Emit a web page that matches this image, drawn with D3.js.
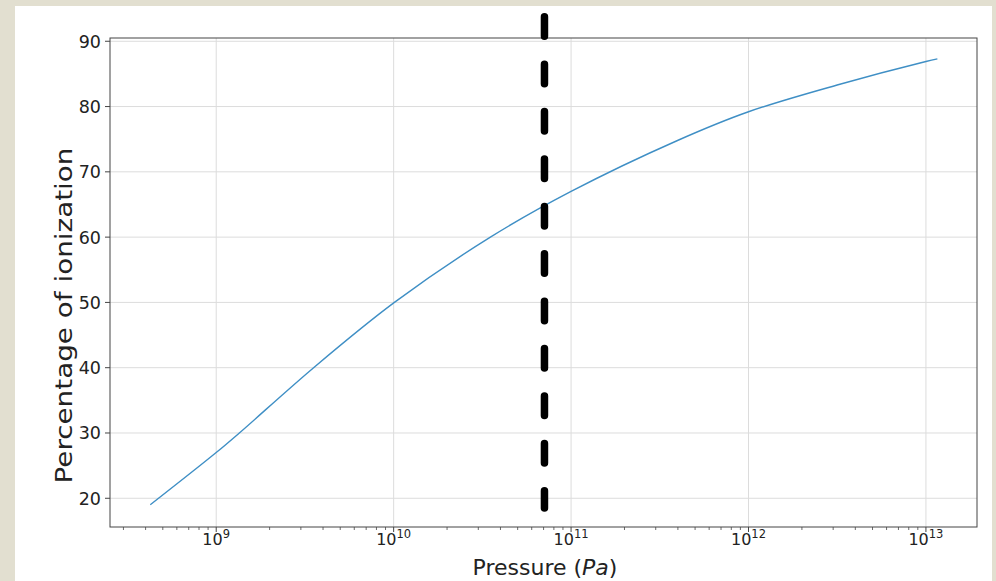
<!DOCTYPE html>
<html>
<head>
<meta charset="utf-8">
<script src="https://cdn.jsdelivr.net/npm/d3@7/dist/d3.min.js"></script>
<style>
  html, body { margin: 0; padding: 0; background: #e2dfd0; }
  svg { display: block; }
</style>
</head>
<body>
<svg id="chart" width="996" height="581"></svg>
<script>
// ---- data ----
const pressure   = [4.25e8, 1e9,  1.35e9, 3.54e9, 1.01e10, 3.51e10, 1e11, 3.98e11, 1e12, 3.16e12, 1e13, 1.16e13];
const ionization = [19.0,   27.0, 30.0,   40.0,   50.0,    60.0,    67.0, 74.8,    79.2, 83.3,    86.9, 87.3];
const xTickValues = [1e9, 1e10, 1e11, 1e12, 1e13];
const xTickExponents = ["9", "10", "11", "12", "13"];
const yTickValues = [20, 30, 40, 50, 60, 70, 80, 90];
const markerPressure = [7.08e10];
const markerRange = [93.75, 18.5];
const xLabelMain = "Pressure (";
const xLabelItalic = "Pa";
const yLabel = "Percentage of ionization";

// ---- layout ----
const svg = d3.select("#chart");
const W = 996, H = 581;
const plot = { left: 110, right: 977, top: 38, bottom: 527 };

svg.append("rect").attr("x", 0).attr("y", 0).attr("width", W).attr("height", H).attr("fill", "#e2dfd0");
svg.append("rect").attr("x", 15).attr("y", 6).attr("width", 977).attr("height", H - 6).attr("fill", "#ffffff");

const x = d3.scaleLog().domain([2.52e8, 1.94e13]).range([plot.left, plot.right]);
const y = d3.scaleLinear().domain([15.6, 90.5]).range([plot.bottom, plot.top]);

const font = "'DejaVu Sans', sans-serif";

// grid
const grid = svg.append("g");
grid.selectAll("line.gx").data(xTickValues).enter().append("line")
  .attr("x1", d => x(d)).attr("x2", d => x(d))
  .attr("y1", plot.top).attr("y2", plot.bottom)
  .attr("stroke", "#dcdcdc").attr("stroke-width", 1);
grid.selectAll("line.gy").data(yTickValues).enter().append("line")
  .attr("x1", plot.left).attr("x2", plot.right)
  .attr("y1", d => y(d)).attr("y2", d => y(d))
  .attr("stroke", "#dcdcdc").attr("stroke-width", 1);

// minor x ticks
const minor = x.ticks();
const xAxisG = svg.append("g").attr("transform", `translate(0,${plot.bottom})`);
xAxisG.selectAll("line.minor").data(minor.filter(t => !xTickValues.includes(t) && t > x.domain()[0] && t < x.domain()[1]))
  .enter().append("line")
  .attr("x1", d => x(d)).attr("x2", d => x(d)).attr("y1", 0).attr("y2", 3)
  .attr("stroke", "#444").attr("stroke-width", 0.8);
xAxisG.selectAll("line.major").data(xTickValues).enter().append("line")
  .attr("x1", d => x(d)).attr("x2", d => x(d)).attr("y1", 0).attr("y2", 5)
  .attr("stroke", "#444").attr("stroke-width", 1);
const xl = xAxisG.selectAll("text.xt").data(xTickValues).enter().append("text")
  .attr("x", d => x(d)).attr("y", 18)
  .attr("text-anchor", "middle")
  .attr("font-family", font).attr("font-size", 16).attr("fill", "#222");
xl.append("tspan").text("10");
xl.append("tspan").attr("dy", -7).attr("font-size", 11.5).text((d, i) => xTickExponents[i]);

// y ticks
const yAxisG = svg.append("g").attr("transform", `translate(${plot.left},0)`);
yAxisG.selectAll("line").data(yTickValues).enter().append("line")
  .attr("x1", -5).attr("x2", 0).attr("y1", d => y(d)).attr("y2", d => y(d))
  .attr("stroke", "#444").attr("stroke-width", 1);
yAxisG.selectAll("text").data(yTickValues).enter().append("text")
  .attr("x", -9).attr("y", d => y(d) + 6.5)
  .attr("text-anchor", "end")
  .attr("font-family", font).attr("font-size", 17.5).attr("fill", "#222")
  .text(d => d);

// curve
const pts = pressure.map((p, i) => [p, ionization[i]]);
svg.append("path").datum(pts)
  .attr("d", d3.line().x(d => x(d[0])).y(d => y(d[1])).curve(d3.curveCatmullRom.alpha(0.5)))
  .attr("fill", "none").attr("stroke", "#3f8fc5").attr("stroke-width", 1.4);

// frame
svg.append("rect").attr("x", plot.left).attr("y", plot.top)
  .attr("width", plot.right - plot.left).attr("height", plot.bottom - plot.top)
  .attr("fill", "none").attr("stroke", "#444").attr("stroke-width", 1);

// dashed marker
svg.selectAll("line.marker").data(markerPressure).enter().append("line")
  .attr("x1", d => x(d)).attr("x2", d => x(d))
  .attr("y1", y(markerRange[0])).attr("y2", y(markerRange[1]))
  .attr("stroke", "#000").attr("stroke-width", 7.5)
  .attr("stroke-linecap", "round")
  .attr("stroke-dasharray", "19.5 27.9");

// axis labels
const xt = svg.append("text").attr("x", 545).attr("y", 575)
  .attr("text-anchor", "middle").attr("font-family", font).attr("font-size", 22).attr("fill", "#222");
xt.append("tspan").text(xLabelMain);
xt.append("tspan").attr("font-style", "italic").text(xLabelItalic);
xt.append("tspan").text(")");

svg.append("text")
  .attr("transform", `translate(72,315.5) rotate(-90)`)
  .attr("text-anchor", "middle")
  .attr("font-family", font).attr("font-size", 23).attr("fill", "#222")
  .attr("textLength", 336).attr("lengthAdjust", "spacingAndGlyphs")
  .text(yLabel);
</script>
</body>
</html>
